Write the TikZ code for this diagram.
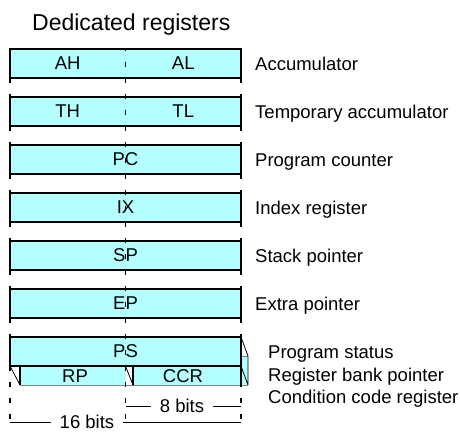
\documentclass[tikz,border=0pt]{standalone}
\usepackage{fontspec}
\setmainfont{Liberation Sans}
\usetikzlibrary{positioning}
\definecolor{regcyan}{RGB}{180,255,255}

\begin{document}
\begin{tikzpicture}[
        x=1pt, y=-1pt,
        node distance=19pt,
        every node/.style={inner sep=0pt, font=\fontsize{18.5}{22}\selectfont},
        reg/.style={draw, fill=regcyan, line width=1.6pt, outer sep=0pt, minimum width=231pt, minimum height=29pt},
        lbl/.style={anchor=west, text height=13.3pt, text depth=0pt},
        divline/.style={line width=1.4pt, dash pattern=on 5pt off 11pt, dash phase=3pt},
        dimline/.style={line width=0.9pt}
    ]
        \useasboundingbox (0,0) rectangle (460,431);
        \node[anchor=base west, font=\fontsize{23}{27}\selectfont] (title) at (32,30) {Dedicated registers};

        \node[reg] (acc) at (125.5,63.5) {};
        \node[reg, below=of acc] (tmp) {};
        \node[reg, below=of tmp] (pc) {PC};
        \node[reg, below=of pc] (ix) {IX};
        \node[reg, below=of ix] (sp) {SP};
        \node[reg, below=of sp] (ep) {EP};

        \fill[regcyan] (20,366) rectangle (125.5,385);
        \fill[regcyan] (133,366) rectangle (248,385);
        \fill[regcyan] (241,356) rectangle (248,366);
        \draw[gray, line width=1pt] (20,385) -- (248,385) (241,356) -- (248,356);
        \draw[line width=1.6pt] (20,366) -- (20,385) (133,366) -- (133,385) (241,366) -- (241,385);
        \draw[line width=0.8pt] (10,366) -- (20,385) (125.5,366) -- (133,385) (241,366) -- (248,385)
            (241,337) -- (248,356) -- (248,385);

        \node[reg, below=of ep] (ps) {PS};

        \node[xshift=-57.75pt] (ah) at (acc) {AH};
        \node[xshift=57.75pt] (al) at (acc) {AL};
        \node[xshift=-57.75pt] (th) at (tmp) {TH};
        \node[xshift=57.75pt] (tl) at (tmp) {TL};
        \node (rp) at (75,376) {RP};
        \node (ccr) at (183,376) {CCR};

        \node[lbl, right=14pt of acc] (acclbl) {Accumulator};
        \node[lbl, right=14pt of tmp] (tmplbl) {Temporary accumulator};
        \node[lbl, right=14pt of pc] (pclbl) {Program counter};
        \node[lbl, right=14pt of ix] (ixlbl) {Index register};
        \node[lbl, right=14pt of sp] (splbl) {Stack pointer};
        \node[lbl, right=14pt of ep] (eplbl) {Extra pointer};
        \node[lbl, right=27pt of ps] (pslbl) {Program status};
        \node[lbl, below=9.2pt of pslbl.south west, anchor=north west] (rplbl) {Register bank pointer};
        \node[lbl, below=9.2pt of rplbl.south west, anchor=north west] (ccrlbl) {Condition code register};

        \coordinate (l16) at (10,422);
        \coordinate (r16) at (241,422);
        \coordinate (m8) at (125.5,406);
        \coordinate (r8) at (241,406);
        \coordinate (mend) at (125.5,419);
        \node[inner xsep=8.5pt] (b16) at (87,422) {16 bits};
        \node[inner xsep=9pt] (b8) at (182,406) {8 bits};

        \draw[divline] (acc.north west) -- (l16);
        \draw[divline] (acc.north) -- (mend);
        \draw[divline] (acc.north east) -- (r16);
        \draw[dimline] (l16) -- (b16) -- (r16);
        \draw[dimline] (m8) -- (b8) -- (r8);
    \end{tikzpicture}
\end{document}
